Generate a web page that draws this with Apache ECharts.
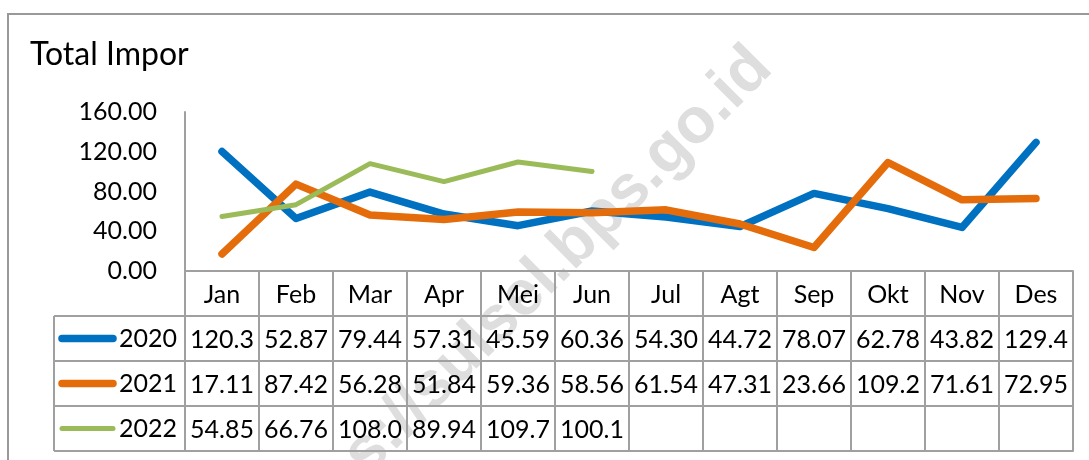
<!DOCTYPE html>
<html>
<head>
<meta charset="utf-8">
<title>Total Impor</title>
<script src="https://cdn.jsdelivr.net/npm/echarts@6/dist/echarts.min.js"></script>
<style>
  html, body { margin: 0; padding: 0; background: #fff; }
  #chart { width: 1089px; height: 460px; }
</style>
</head>
<body>
<div id="chart"></div>
<script>
// data
const months = ["Jan", "Feb", "Mar", "Apr", "Mei", "Jun", "Jul", "Agt", "Sep", "Okt", "Nov", "Des"];
const years = ["2020", "2021", "2022"];
const impor2020 = [120.3, 52.87, 79.44, 57.31, 45.59, 60.36, 54.30, 44.72, 78.07, 62.78, 43.82, 129.4];
const impor2021 = [17.11, 87.42, 56.28, 51.84, 59.36, 58.56, 61.54, 47.31, 23.66, 109.2, 71.61, 72.95];
const impor2022 = [54.85, 66.76, 108.0, 89.94, 109.7, 100.1];
const yMin = 0;
const yMax = 160;
const yStep = 40;

const colors = ["#0070C0", "#E46C0A", "#9BBB59"];
const widths = [7.5, 7.5, 5];
const seriesData = [impor2020, impor2021, impor2022];

const font = "Lato";
const border = "#a0a0a0";
const gridLeft = 185;
const gridRight = 16;
const gridTop = 112;
const gridBottom = 189; // x axis line at y = 271
const axisY = 460 - gridBottom;
const rowH = 45;
const legendLeft = 54;

// Excel data table shows 4 significant characters
function cell(v) {
  if (v === undefined || v === null) return "";
  return v.toFixed(2).slice(0, 5);
}

const chart = echarts.init(document.getElementById("chart"));

// header row + one axis per data row, last one only closes the table
const xAxes = [];
for (let i = 0; i <= years.length + 1; i++) {
  const rowValues = i >= 1 && i <= years.length ? seriesData[i - 1] : null;
  xAxes.push({
    type: "category",
    data: months,
    position: "bottom",
    offset: i * rowH,
    boundaryGap: true,
    axisLine: { show: true, onZero: false, lineStyle: { color: border, width: 2 } },
    axisTick: i === 0
      ? { show: true, interval: 0, length: rowH * (years.length + 1), lineStyle: { color: border, width: 2 } }
      : { show: false },
    axisLabel: {
      show: i <= years.length,
      interval: 0,
      margin: 11,
      color: "#000",
      fontFamily: font,
      fontSize: 25,
      lineHeight: 25,
      formatter: (val, idx) => (i === 0 ? val : cell(rowValues[idx])),
    },
    splitLine: { show: false },
  });
}

// watermark, outer frame and legend column left of the table
const graphics = [
  {
    type: "text",
    z: -10,
    x: 762,
    y: 58,
    rotation: Math.PI / 4,
    style: {
      text: "https://sulsel.bps.go.id",
      fill: "#dedede",
      font: "bold 64px 'Liberation Sans', Arial, sans-serif",
      align: "right",
      verticalAlign: "middle",
    },
  },
  {
    type: "polyline",
    shape: { points: [[8, 460], [8, 14], [1089, 14]] },
    style: { stroke: "#999", lineWidth: 2, fill: null },
  },
  {
    type: "line",
    shape: { x1: legendLeft, y1: axisY + rowH, x2: legendLeft, y2: axisY + rowH * (years.length + 1) },
    style: { stroke: border, lineWidth: 2 },
  },
];
for (let r = 1; r <= years.length + 1; r++) {
  graphics.push({
    type: "line",
    shape: { x1: legendLeft, y1: axisY + rowH * r, x2: gridLeft, y2: axisY + rowH * r },
    style: { stroke: border, lineWidth: 2 },
  });
}
years.forEach((y, i) => {
  const cy = axisY + rowH * (i + 1.5);
  graphics.push({
    type: "line",
    shape: { x1: legendLeft + 8, y1: cy, x2: legendLeft + 59, y2: cy },
    style: { stroke: colors[i], lineWidth: widths[i], lineCap: "round" },
  });
  graphics.push({
    type: "text",
    x: legendLeft + 65,
    y: cy,
    style: {
      text: y,
      fill: "#000",
      font: "25px " + font,
      verticalAlign: "middle",
      align: "left",
    },
  });
});

const option = {
  animation: false,
  title: {
    text: "Total Impor",
    left: 25,
    top: 34,
    textStyle: { fontFamily: font, fontSize: 32, fontWeight: "normal", color: "#000" },
  },
  grid: { left: gridLeft, right: gridRight, top: gridTop, bottom: gridBottom },
  xAxis: xAxes,
  yAxis: {
    type: "value",
    min: yMin,
    max: yMax,
    interval: yStep,
    axisLine: { show: true, lineStyle: { color: border, width: 2 } },
    axisTick: { show: false },
    splitLine: { show: false },
    axisLabel: {
      margin: 28,
      color: "#000",
      fontFamily: font,
      fontSize: 25,
      formatter: (v) => v.toFixed(2),
    },
  },
  series: years.map((y, i) => ({
    name: y,
    type: "line",
    xAxisIndex: 0,
    data: seriesData[i],
    symbol: "none",
    smooth: false,
    lineStyle: { color: colors[i], width: widths[i], cap: "round", join: "round" },
    itemStyle: { color: colors[i] },
  })),
  graphic: graphics,
};

chart.setOption(option);
</script>
</body>
</html>
